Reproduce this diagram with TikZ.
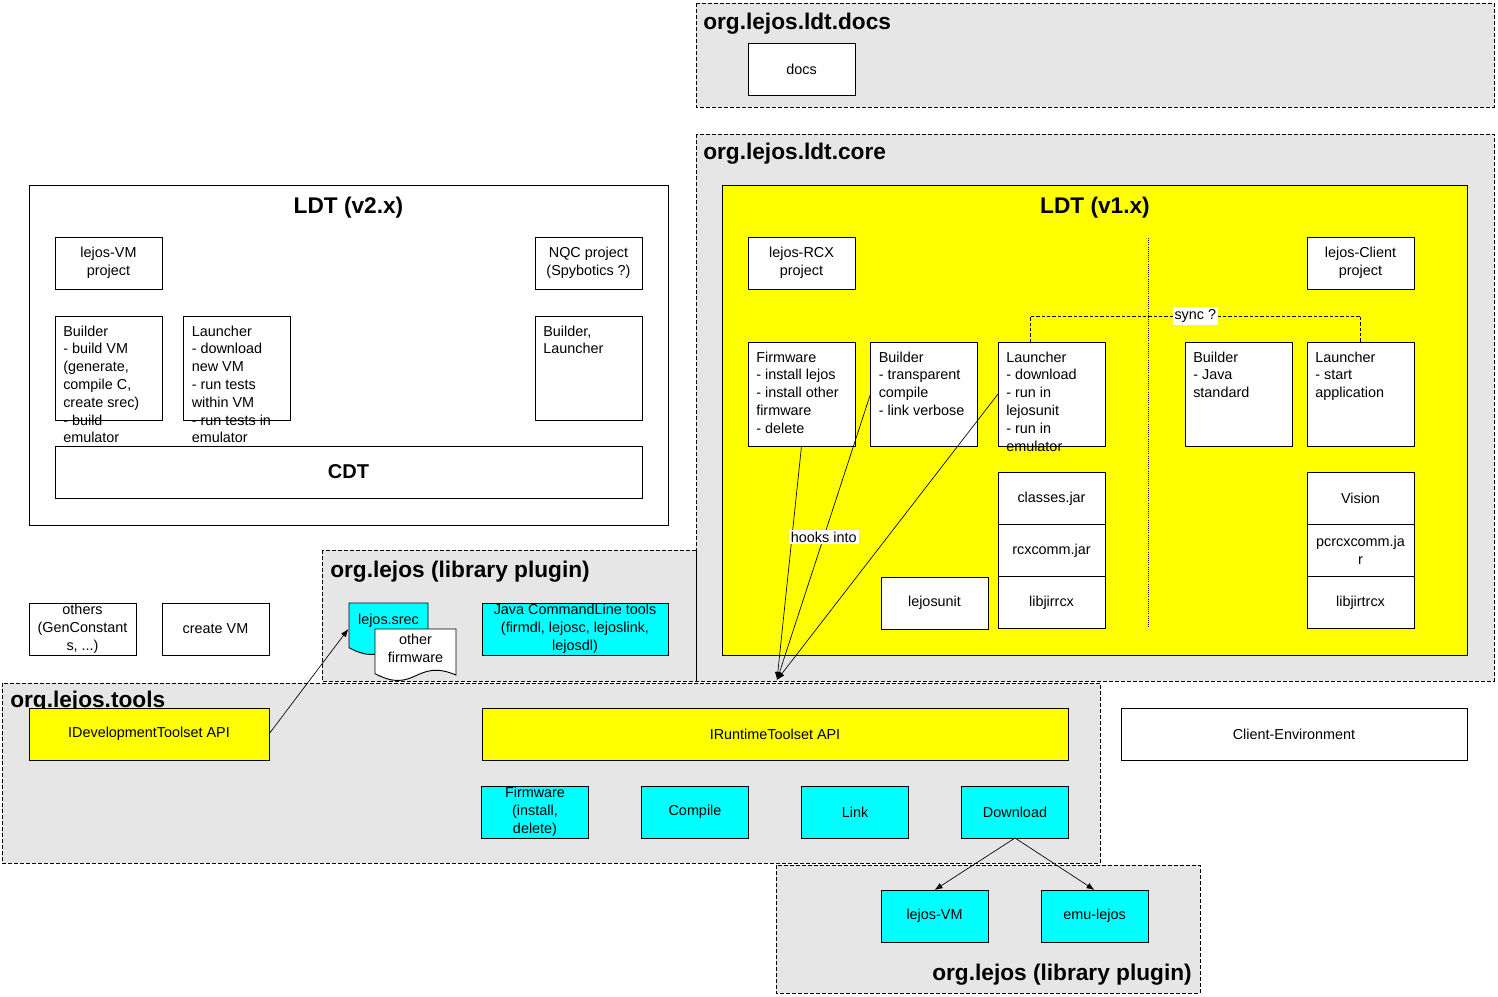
\documentclass[tikz,border=0pt]{standalone}
\usepackage{fontspec}
\setmainfont{Liberation Sans}
\usepackage{tikz}
\usetikzlibrary{arrows.meta,positioning,calc}
\definecolor{ldgray}{RGB}{230,230,230}
\definecolor{ldyellow}{RGB}{255,255,0}
\definecolor{ldcyan}{RGB}{0,255,255}
\newcommand{\boxfont}{\fontsize{10.8}{13.35}\selectfont}
\newcommand{\titlefont}{\fontsize{17}{20}\selectfont\bfseries}
\newcommand{\cdtfont}{\fontsize{15}{18}\selectfont\bfseries}
\tikzstyle{arrow} = [line width=0.5pt,->,>={Latex[length=6pt,width=4.5pt]}]
\tikzstyle{panel} = [draw=black, fill=ldgray, line width=0.6pt, dash pattern=on 3pt off 1.5pt]
\tikzstyle{syncline} = [line width=0.6pt, dash pattern=on 2.5pt off 1.5pt]
\tikzstyle{plain} = [rectangle, draw=black, fill=white, line width=0.7pt, minimum width=80.25pt, minimum height=39pt, inner sep=1pt, outer sep=0pt, align=center, font=\boxfont]
\tikzstyle{tool} = [plain, fill=ldcyan]
\tikzstyle{api} = [plain, fill=ldyellow]
\tikzstyle{listbox} = [plain, minimum height=78pt]
\tikzstyle{listtext} = [inner sep=0pt, anchor=north west, align=left, font=\boxfont, xshift=6pt, yshift=-7pt]
\tikzstyle{paneltitle} = [inner sep=0pt, anchor=base west, font=\titlefont]
\tikzstyle{ldttitle} = [inner sep=0pt, anchor=base, font=\titlefont]
\tikzstyle{doctext} = [inner sep=0pt, align=center, font=\boxfont]
\tikzstyle{tag} = [fill=white, inner sep=1.5pt, font=\boxfont]
\tikzset{docbox/.style={rectangle, inner sep=0pt, outer sep=0pt, minimum height=40pt,
  path picture={
    \filldraw[fill=#1, line width=0.7pt]
      ([shift={(0.5pt,-0.5pt)}]path picture bounding box.north west)
      -- ([shift={(-0.5pt,-0.5pt)}]path picture bounding box.north east)
      -- ([shift={(-0.5pt,5pt)}]path picture bounding box.south east)
      .. controls ($(path picture bounding box.south)+(0,18pt)$) and ($(path picture bounding box.south)+(0,-10pt)$)
      .. ([shift={(0.5pt,6pt)}]path picture bounding box.south west) -- cycle;
  }}}

\begin{document}
\begin{tikzpicture}[x=0.75pt, y=-0.75pt]
\useasboundingbox (0,0) rectangle (1498,996);

% plugin areas
\draw[panel] (696,3) rectangle (1494,107);
\node[paneltitle] (docsT) at (703,29) {org.lejos.ldt.docs};
\draw[panel] (696,134) rectangle (1494,681);
\node[paneltitle] (coreT) at (703,159) {org.lejos.ldt.core};
\draw[panel] (322,550) rectangle (696,681);
\node[paneltitle] (libT) at (330,577) {org.lejos (library plugin)};
\draw[panel] (2,683) rectangle (1100,863);
\node[paneltitle] (toolsT) at (10,707) {org.lejos.tools};
\draw[panel] (776,865) rectangle (1200,993);
\node[paneltitle, anchor=base east] (lib2T) at (1192,980) {org.lejos (library plugin)};

% docs
\node[plain] (docs) at (801.5,69.5) {docs};

% LDT v2
\node[plain, minimum width=479.25pt, minimum height=255pt] (ldt2) at (348.5,355) {};
\node[ldttitle] (ldt2T) at (348.5,213) {LDT (v2.x)};
\node[plain] (vmprj) at (108.5,263) {lejos-VM\\project};
\node[plain] (nqc) at (588.5,263) {NQC project\\(Spybotics ?)};
\node[listbox, label={[listtext]north west:Builder\\- build VM\\(generate,\\compile C,\\create srec)\\- build\\emulator}] (vmbld) at (108.5,368) {};
\node[listbox, label={[listtext]north west:Launcher\\- download\\new VM\\- run tests\\within VM\\- run tests in\\emulator}] (vmlch) at (237,368) {};
\node[listbox, label={[listtext]north west:Builder,\\Launcher}] (nqcbl) at (588.5,368) {};
\node[plain, minimum width=440.25pt, font=\cdtfont] (cdt) at (348.5,472) {CDT};

% LDT v1
\node[plain, fill=ldyellow, minimum width=558.75pt, minimum height=352.5pt] (ldt1) at (1094.5,420) {};
\node[ldttitle] (ldt1T) at (1095,213) {LDT (v1.x)};
\draw[densely dotted, line width=0.6pt] (1148,238) -- (1148,628);
\node[plain] (rcxprj) at (801.5,263) {lejos-RCX\\project};
\node[plain] (cliprj) at (1360.5,263) {lejos-Client\\project};
\node[listbox, label={[listtext]north west:Firmware\\- install lejos\\- install other\\firmware\\- delete}] (fw) at (801.5,394) {};
\node[listbox, label={[listtext]north west:Builder\\- transparent\\compile\\- link verbose}] (rcxbld) at (924,394) {};
\node[listbox, label={[listtext]north west:Launcher\\- download\\- run in\\lejosunit\\- run in\\emulator}] (rcxlch) at (1051.5,394) {};
\node[listbox, label={[listtext]north west:Builder\\- Java\\standard}] (clibld) at (1238.5,394) {};
\node[listbox, label={[listtext]north west:Launcher\\- start\\application}] (clilch) at (1360.5,394) {};
\node[plain] (cls) at (1051.5,498.5) {classes.jar};
\node[plain, below=0pt of cls] (rcxjar) {rcxcomm.jar};
\node[plain, below=0pt of rcxjar] (libj) {libjirrcx};
\node[plain] (lunit) at (934.5,603) {lejosunit};
\node[plain] (vision) at (1360.5,498.5) {Vision};
\node[plain, below=0pt of vision] (pcjar) {pcrcxcomm.ja\\r};
\node[plain, below=0pt of pcjar] (libjt) {libjirtrcx};
\draw[syncline] ([xshift=-16pt]rcxlch.north) -- ++(0,-26) -| (clilch.north)
  node[tag, pos=0.25] (syncL) {sync ?};

% outside tools
\node[plain] (others) at (82.5,629) {others\\(GenConstant\\s, ...)};
\node[plain] (mkvm) at (215.5,629) {create VM};
\node[docbox=ldcyan, minimum width=60.25pt, label={[doctext, yshift=6pt]center:lejos.srec}] (srec) at (388.5,629) {};
\node[docbox=white, minimum width=61.75pt, label={[doctext, yshift=5pt]center:other\\firmware}] (ofw) at (415.5,655) {};
\node[tool, minimum width=139.5pt] (jcl) at (575,629) {Java CommandLine tools\\(firmdl, lejosc, lejoslink,\\lejosdl)};

% org.lejos.tools
\node[api, minimum width=180pt] (idev) at (149,734) {IDevelopmentToolset API};
\node[api, minimum width=439.5pt] (irt) at (775,734) {IRuntimeToolset API};
\node[plain, minimum width=259.5pt] (cenv) at (1294,734) {Client-Environment};
\node[tool] (fwtool) at (535,812) {Firmware\\(install,\\delete)};
\node[tool, right=39.75pt of fwtool] (cmp) {Compile};
\node[tool, right=39.75pt of cmp] (lnk) {Link};
\node[tool, right=39.75pt of lnk] (dl) {Download};
\node[tool] (lvm) at (934.5,916) {lejos-VM};
\node[tool, right=39.75pt of lvm] (emu) {emu-lejos};

% connectors
\coordinate (hook) at (777,680);
\draw[arrow] (idev.east) -- (srec.west);
\draw[arrow] (fw.south) -- (hook);
\draw[arrow] (rcxbld.west) -- (hook) node[tag, midway] (hookL) {hooks into};
\draw[arrow] (rcxlch.west) -- (hook);
\draw[arrow] (dl.south) -- (lvm.north);
\draw[arrow] (dl.south) -- (emu.north);
\end{tikzpicture}
\end{document}
